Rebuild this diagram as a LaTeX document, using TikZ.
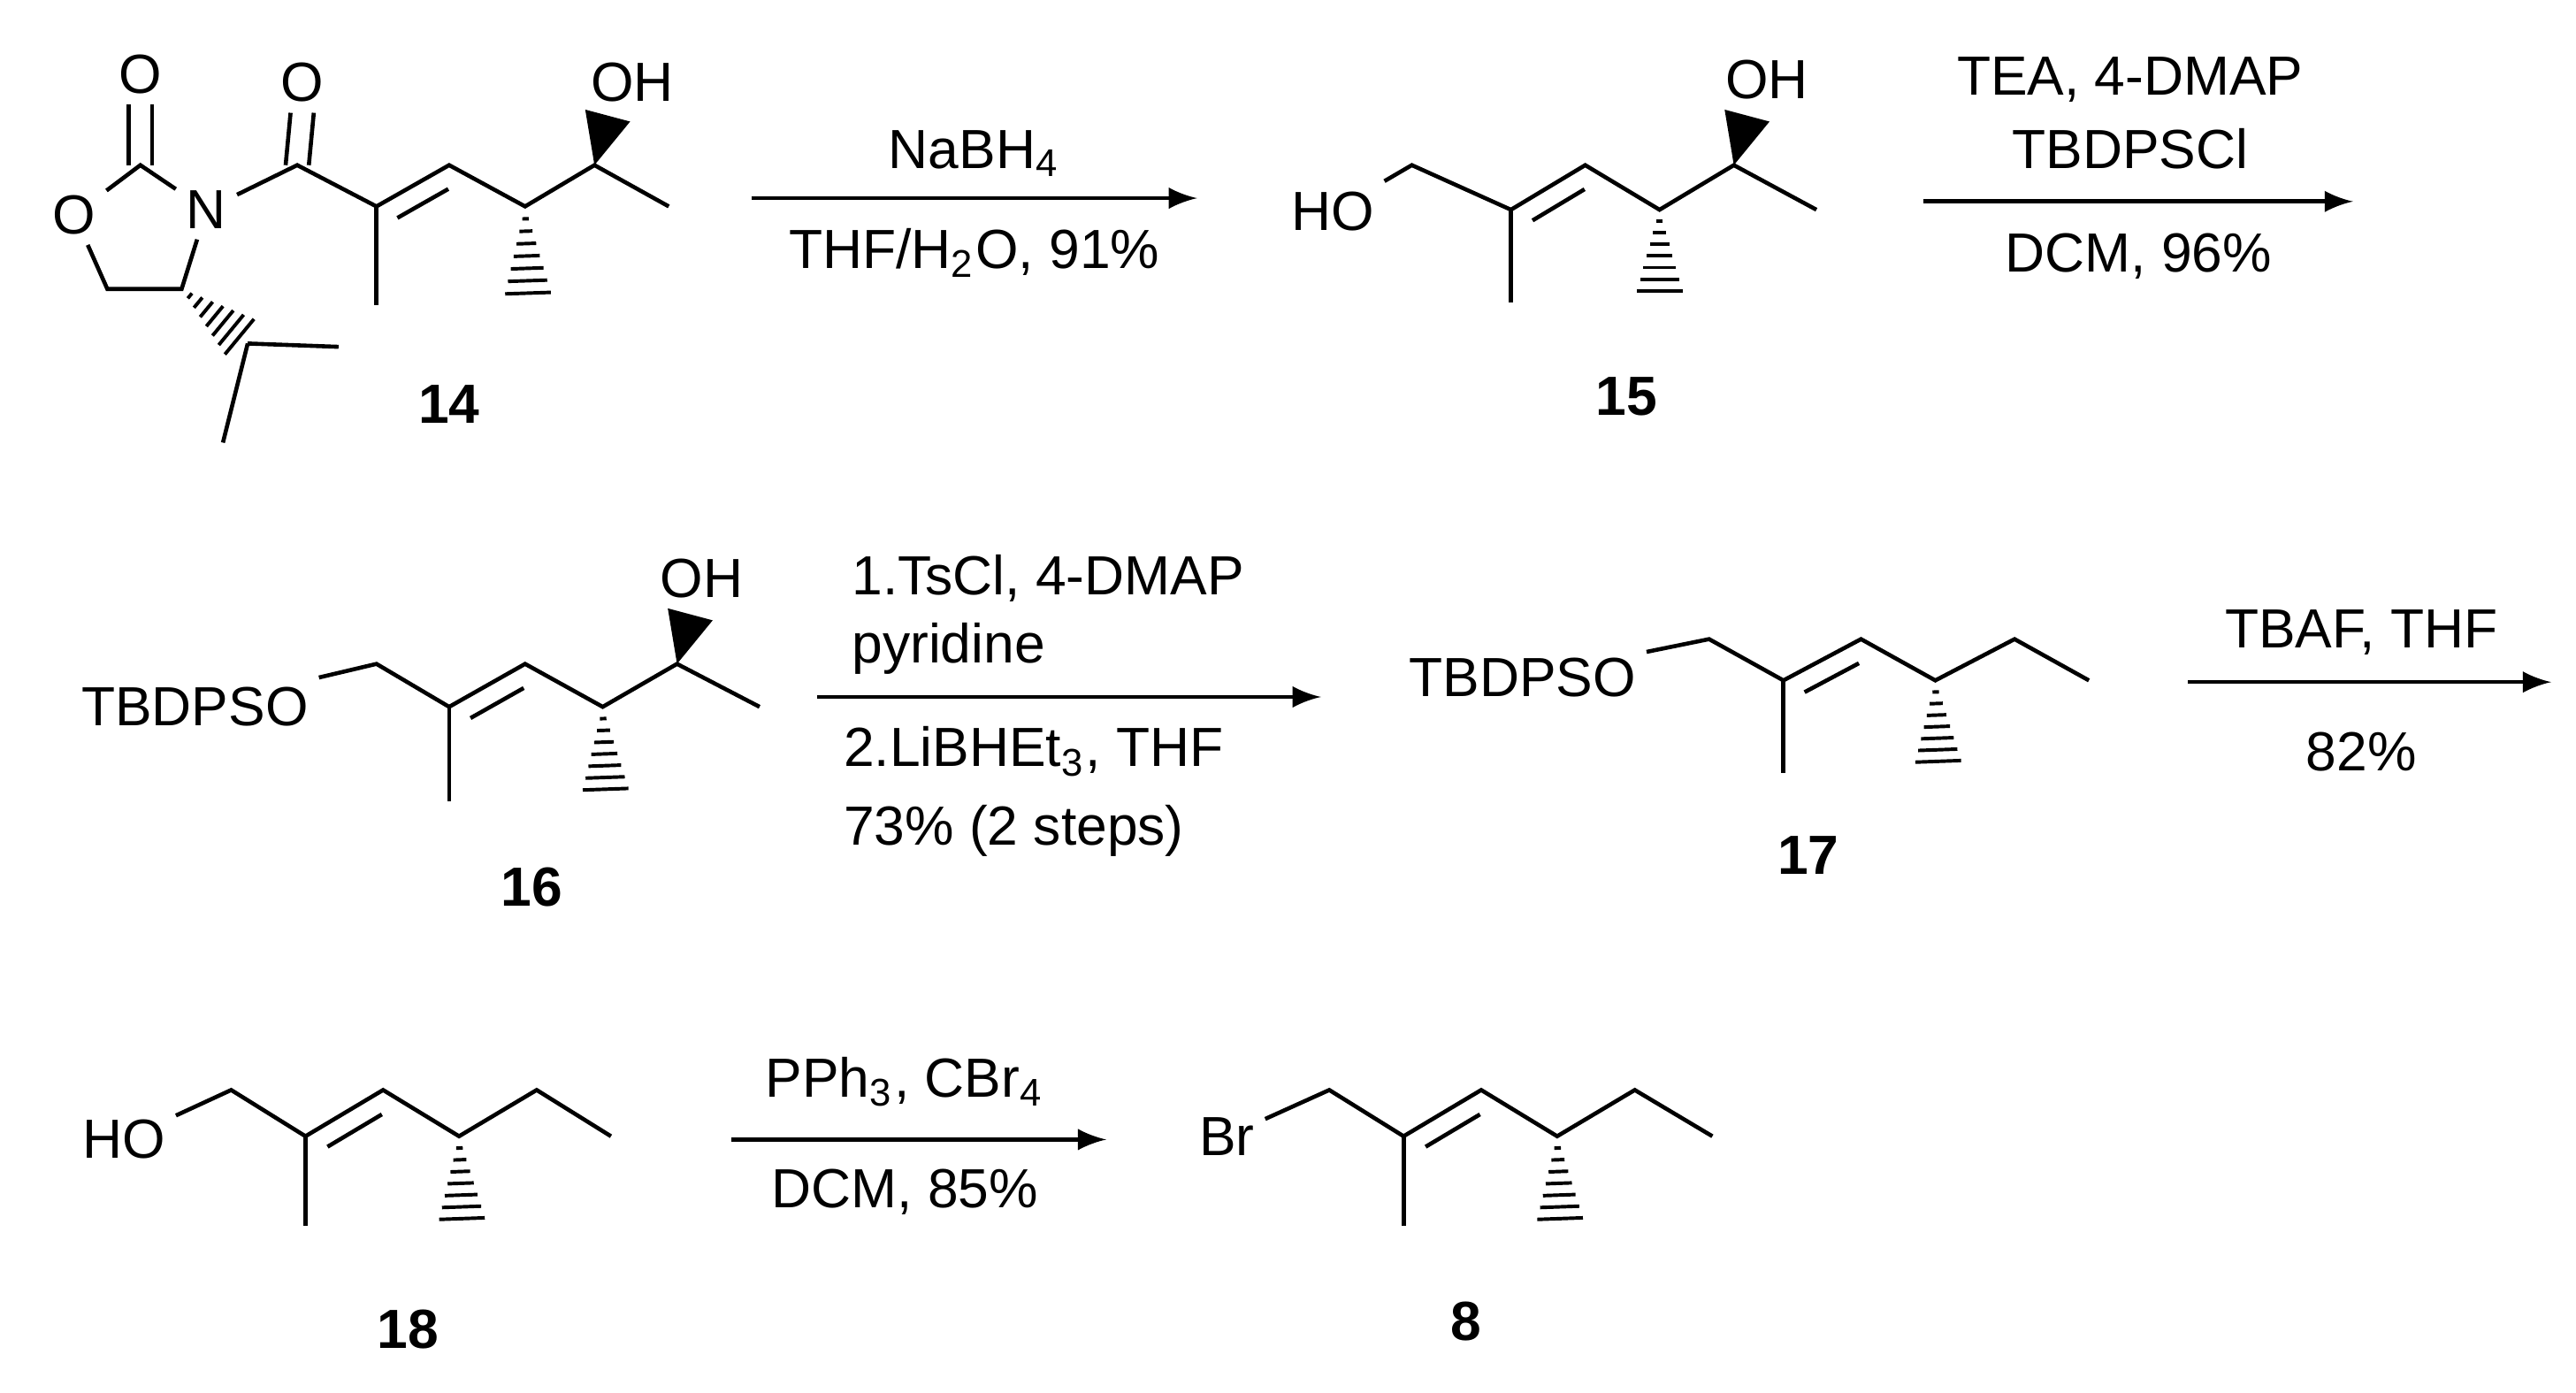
\documentclass[tikz,border=0pt]{standalone}
\usepackage{fontspec}
\setmainfont{Liberation Sans}
\usetikzlibrary{calc}
\newcommand\hashbond[2]{\foreach \i in {1,...,8}{\pgfmathsetmacro\t{\i/8}\draw[line width=0.6pt] ($(#1)!\t!(#2)!{\t*4.5pt}!90:(#2)$) -- ($(#1)!\t!(#2)!{\t*4.5pt}!-90:(#2)$);}}
\newcommand\wedgebond[2]{\fill (#1) -- ($(#2)!4pt!90:(#1)$) -- ($(#2)!4pt!-90:(#1)$) -- cycle;}
\newcommand\dbl[2]{\draw ($(#1)!0.15!(#2)!3.5pt!-90:(#2)$) -- ($(#2)!0.15!(#1)!3.5pt!90:(#1)$);}
\newcommand\sbs[1]{\textsubscript{#1}}
\begin{document}
\begin{tikzpicture}[x=0.1mm,y=-0.1mm,line width=0.7pt,
  atom/.style={inner sep=1.5pt,font=\fontsize{9.5}{10}\selectfont},
  lbl/.style={font=\fontsize{9.5}{10}\selectfont\bfseries},
  rg/.style={font=\fontsize{9.5}{11}\selectfont},
  arr/.style={-latex,line width=0.7pt}]
\useasboundingbox (0,0) rectangle (1560,843);
% ---------- 14
\node[atom] (oc) at (85,45) {O};
\node[atom] (o1) at (45,130) {O};
\node[atom] (n) at (125,127) {N};
\node[atom] (o2) at (183,50) {O};
\node[atom] (oh14) at (383,50) {OH};
\coordinate (c2) at (85,100);
\coordinate (c4) at (110,175);
\coordinate (c5) at (65,175);
\coordinate (ip) at (150,208);
\coordinate (ip1) at (135,268);
\coordinate (ip2) at (205,210);
\coordinate (ac) at (180,100);
\coordinate (a1) at (228,125);
\coordinate (a1m) at (228,185);
\coordinate (a2) at (272,100);
\coordinate (a3) at (318,125);
\coordinate (a3m) at (320,185);
\coordinate (a4) at (360,100);
\coordinate (a4o) at (368,70);
\coordinate (a5) at (405,125);
\draw (o1) -- (c2) -- (n) -- (c4) -- (c5) -- (o1);
\draw ([xshift=-2pt]c2) -- ([xshift=-2pt]oc.south); \draw ([xshift=2pt]c2) -- ([xshift=2pt]oc.south);
\draw (n) -- (ac) -- (a1) -- (a2) -- (a3) -- (a4) -- (a5);
\draw ([xshift=-2pt]ac) -- ([xshift=-2pt]o2.south); \draw ([xshift=2pt]ac) -- ([xshift=2pt]o2.south);
\draw (a1) -- (a1m); \dbl{a1}{a2}
\draw (ip) -- (ip1); \draw (ip) -- (ip2);
\hashbond{c4}{ip} \hashbond{a3}{a3m} \wedgebond{a4}{a4o}
\node[lbl] (l14) at (272,245) {14};
% arrow 1
\coordinate (r1s) at (455,120); \coordinate (r1e) at (725,120);
\draw[arr] (r1s) -- (r1e);
\node[rg] (r1a) at (590,93) {NaBH\sbs{4}};
\node[rg] (r1b) at (590,153) {THF/H\sbs{2}O, 91\%};
% ---------- 15
\node[atom] (ho15) at (807,128) {HO};
\node[atom] (oh15) at (1070,48) {OH};
\coordinate (b1) at (855,100);
\coordinate (b2) at (915,127); \coordinate (b2m) at (915,183);
\coordinate (b3) at (960,100);
\coordinate (b4) at (1005,127); \coordinate (b4m) at (1005,183);
\coordinate (b5) at (1050,100); \coordinate (b5o) at (1058,70);
\coordinate (b6) at (1100,127);
\draw (ho15) -- (b1) -- (b2) -- (b3) -- (b4) -- (b5) -- (b6);
\draw (b2) -- (b2m); \dbl{b2}{b3}
\hashbond{b4}{b4m} \wedgebond{b5}{b5o}
\node[lbl] (l15) at (985,240) {15};
% arrow 2
\coordinate (r2s) at (1165,122); \coordinate (r2e) at (1425,122);
\draw[arr] (r2s) -- (r2e);
\node[rg] (r2a) at (1290,48) {TEA, 4-DMAP};
\node[rg] (r2b) at (1290,90) {TBDPSCl};
\node[rg] (r2c) at (1295,155) {DCM, 96\%};
% ---------- 16
\node[atom] (o16) at (118,428) {TBDPSO};
\node[atom] (oh16) at (425,350) {OH};
\coordinate (d1) at (228,402);
\coordinate (d2) at (272,428); \coordinate (d2m) at (272,485);
\coordinate (d3) at (318,402);
\coordinate (d4) at (365,428); \coordinate (d4m) at (367,485);
\coordinate (d5) at (410,402); \coordinate (d5o) at (418,372);
\coordinate (d6) at (460,428);
\draw (o16) -- (d1) -- (d2) -- (d3) -- (d4) -- (d5) -- (d6);
\draw (d2) -- (d2m); \dbl{d2}{d3}
\hashbond{d4}{d4m} \wedgebond{d5}{d5o}
\node[lbl] (l16) at (322,537) {16};
% arrow 3
\coordinate (r3s) at (495,422); \coordinate (r3e) at (800,422);
\draw[arr] (r3s) -- (r3e);
\node[rg,anchor=west] (r3a) at (503,350) {1.TsCl, 4-DMAP};
\node[rg,anchor=west] (r3b) at (503,393) {pyridine};
\node[rg,anchor=west] (r3c) at (498,455) {2.LiBHEt\sbs{3}, THF};
\node[rg,anchor=west] (r3d) at (498,503) {73\% (2 steps)};
% ---------- 17
\node[atom] (o17) at (922,410) {TBDPSO};
\coordinate (e1) at (1035,387);
\coordinate (e2) at (1080,412); \coordinate (e2m) at (1080,468);
\coordinate (e3) at (1127,387);
\coordinate (e4) at (1172,412); \coordinate (e4m) at (1174,468);
\coordinate (e5) at (1220,387);
\coordinate (e6) at (1265,412);
\draw (o17) -- (e1) -- (e2) -- (e3) -- (e4) -- (e5) -- (e6);
\draw (e2) -- (e2m); \dbl{e2}{e3}
\hashbond{e4}{e4m}
\node[lbl] (l17) at (1095,518) {17};
% arrow 4
\coordinate (r4s) at (1325,413); \coordinate (r4e) at (1545,413);
\draw[arr] (r4s) -- (r4e);
\node[rg] (r4a) at (1430,383) {TBAF, THF};
\node[rg] (r4b) at (1430,455) {82\%};
% ---------- 18
\node[atom] (ho18) at (75,690) {HO};
\coordinate (f1) at (140,660);
\coordinate (f2) at (185,688); \coordinate (f2m) at (185,742);
\coordinate (f3) at (232,660);
\coordinate (f4) at (278,688); \coordinate (f4m) at (280,745);
\coordinate (f5) at (325,660);
\coordinate (f6) at (370,688);
\draw (ho18) -- (f1) -- (f2) -- (f3) -- (f4) -- (f5) -- (f6);
\draw (f2) -- (f2m); \dbl{f2}{f3}
\hashbond{f4}{f4m}
\node[lbl] (l18) at (247,805) {18};
% arrow 5
\coordinate (r5s) at (443,690); \coordinate (r5e) at (670,690);
\draw[arr] (r5s) -- (r5e);
\node[rg] (r5a) at (548,655) {PPh\sbs{3}, CBr\sbs{4}};
\node[rg] (r5b) at (548,722) {DCM, 85\%};
% ---------- 8
\node[atom] (br) at (743,688) {Br};
\coordinate (g1) at (805,660);
\coordinate (g2) at (850,688); \coordinate (g2m) at (850,742);
\coordinate (g3) at (897,660);
\coordinate (g4) at (943,688); \coordinate (g4m) at (945,745);
\coordinate (g5) at (990,660);
\coordinate (g6) at (1037,688);
\draw (br) -- (g1) -- (g2) -- (g3) -- (g4) -- (g5) -- (g6);
\draw (g2) -- (g2m); \dbl{g2}{g3}
\hashbond{g4}{g4m}
\node[lbl] (l8) at (888,800) {8};
\end{tikzpicture}
\end{document}
